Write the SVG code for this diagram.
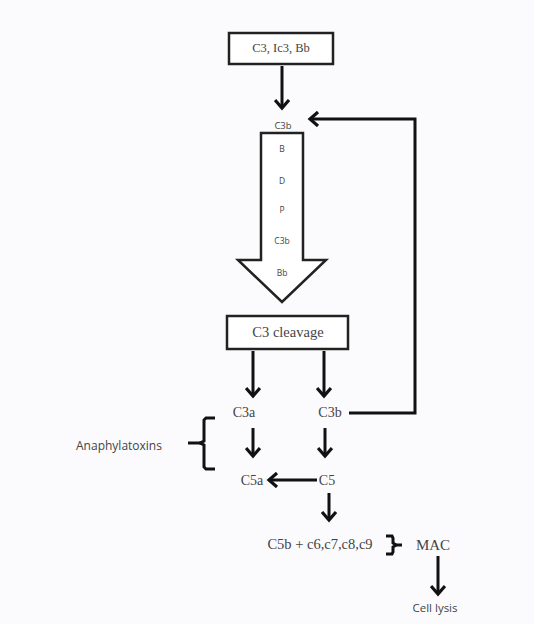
<svg xmlns="http://www.w3.org/2000/svg" width="534" height="624" viewBox="0 0 534 624">
<defs>
<marker id="ah" viewBox="0 0 16 16" refX="12" refY="8" markerWidth="16" markerHeight="16" markerUnits="userSpaceOnUse" orient="auto">
<path d="M4,1 L12,8 L4,15" fill="none" stroke="#111" stroke-width="3.2"/>
</marker>
<style>
.box{fill:#fff;stroke:#222;stroke-width:2.5}
.ln{fill:none;stroke:#111;stroke-width:3}
.ar{fill:none;stroke:#111;stroke-width:3;marker-end:url(#ah)}
.serif{font-family:"Liberation Serif",serif;fill:#444;text-anchor:middle;dominant-baseline:central}
.sans{font-family:"Open Sans","Noto Sans",sans-serif;fill:#444;text-anchor:middle;dominant-baseline:central}
</style>
</defs>
<rect width="534" height="624" fill="#fbfbfd"/>
<g id="connectors">
<line class="ar" x1="282" y1="66" x2="282" y2="108"/>
<polyline class="ar" points="349,413 415,413 415,119 310,119"/>
<line class="ar" x1="253" y1="351" x2="253" y2="396"/>
<line class="ar" x1="324" y1="351" x2="324" y2="396"/>
<line class="ar" x1="253" y1="428" x2="253" y2="456"/>
<line class="ar" x1="325" y1="428" x2="325" y2="456"/>
<line class="ar" x1="317" y1="480" x2="269" y2="480"/>
<line class="ar" x1="329" y1="493" x2="329" y2="520"/>
<line class="ar" x1="438" y1="556" x2="438" y2="594"/>
</g>
<g id="n-top">
<rect class="box" x="229" y="33" width="104" height="31"/>
<text class="serif" x="281" y="48" font-size="12.5">C3, Ic3, Bb</text>
</g>
<g id="n-c3b-top">
<text class="sans" x="283" y="125" font-size="9.5">C3b</text>
</g>
<g id="n-bigarrow">
<path d="M261,133 L303,133 L303,260 L326,260 L282,302 L238,260 L261,260 Z" fill="#fff" stroke="#222" stroke-width="2.5" stroke-linejoin="miter"/>
<text class="sans" x="282" y="148" font-size="8.5">B</text>
<text class="sans" x="282" y="180" font-size="8.5">D</text>
<text class="sans" x="282" y="209" font-size="8.5">P</text>
<text class="sans" x="282" y="240" font-size="8.5">C3b</text>
<text class="sans" x="282" y="272" font-size="8.5">Bb</text>
</g>
<g id="n-cleavage">
<rect class="box" x="227" y="316" width="121" height="33"/>
<text class="serif" x="288" y="332" font-size="14.5">C3 cleavage</text>
</g>
<g id="n-c3a">
<text class="serif" x="244" y="412" font-size="14">C3a</text>
</g>
<g id="n-c3b">
<text class="serif" x="330" y="412" font-size="14">C3b</text>
</g>
<g id="n-anaphylatoxins">
<text class="sans" x="119" y="445" font-size="12">Anaphylatoxins</text>
<path class="ln" d="M215,418 L206,418 L204,420 L204,441 L200,443 L204,445 L204,467 L206,469 L215,469"/>
<line class="ln" x1="188" y1="443" x2="202" y2="443"/>
</g>
<g id="n-c5a">
<text class="serif" x="252" y="480" font-size="14">C5a</text>
</g>
<g id="n-c5">
<text class="serif" x="327" y="480" font-size="14">C5</text>
</g>
<g id="n-c5b">
<text class="serif" x="320" y="544" font-size="14.5">C5b + c6,c7,c8,c9</text>
<path class="ln" d="M386,536 L392,536 L393,538 L393,543 L396,545 L393,547 L393,552 L392,554 L386,554"/>
<line class="ln" x1="395" y1="545" x2="402" y2="545"/>
</g>
<g id="n-mac">
<text class="serif" x="433" y="545" font-size="15">MAC</text>
</g>
<g id="n-lysis">
<text class="sans" x="435" y="607" font-size="11.5">Cell lysis</text>
</g>
</svg>
